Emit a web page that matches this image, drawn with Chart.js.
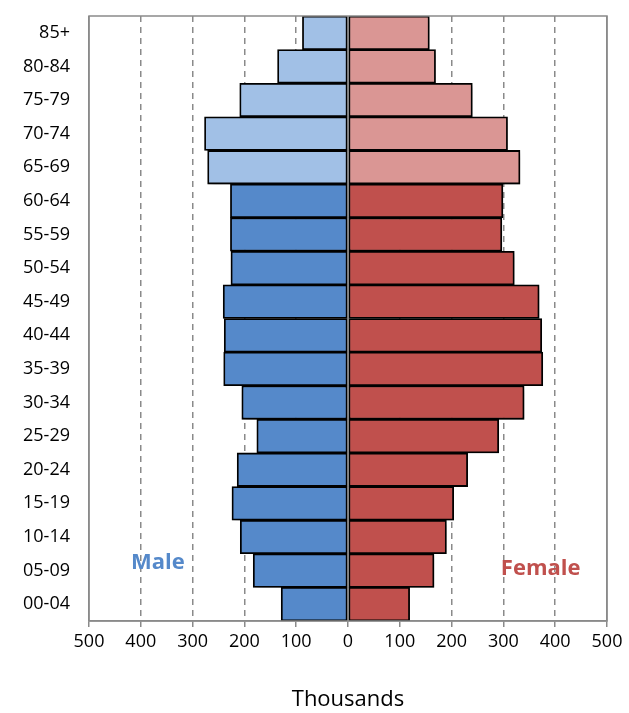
<!DOCTYPE html>
<html>
<head>
<meta charset="utf-8">
<script src="https://cdn.jsdelivr.net/npm/chart.js@4/dist/chart.umd.min.js"></script>
<style>
  html, body { margin: 0; padding: 0; background: #ffffff; }
  #wrap { width: 629px; height: 713px; position: relative; }
</style>
</head>
<body>
<div id="wrap"><canvas id="c" width="629" height="713"></canvas></div>
<script>
// Age groups, listed top to bottom as drawn
const ageGroups = ['85+','80-84','75-79','70-74','65-69','60-64','55-59','50-54','45-49','40-44','35-39','30-34','25-29','20-24','15-19','10-14','05-09','00-04'];
// Thousands of people
const maleValues   = [88, 136, 209, 277, 271, 227, 227, 226, 241, 239, 240, 205, 176, 214, 224, 208, 183, 129];
const femaleValues = [157, 169, 240, 308, 332, 299, 297, 321, 369, 374, 376, 340, 291, 231, 204, 190, 166, 119];
const olderGroups  = ['85+','80-84','75-79','70-74','65-69'];
const xTickValues  = [-500, -400, -300, -200, -100, 0, 100, 200, 300, 400, 500];

const maleDark = '#5589CA', maleLight = '#A1C0E6';
const femaleDark = '#C0504D', femaleLight = '#DA9694';
const gridGray = '#8a8a8a';
const FONT = "'Open Sans', 'DejaVu Sans', sans-serif";

const frameAndLabels = {
  id: 'frameAndLabels',
  beforeDatasetsDraw(chart) {
    const ctx = chart.ctx;
    ctx.save();
    ctx.shadowColor = 'rgba(0,0,0,0.30)';
    ctx.shadowBlur = 6;
    ctx.shadowOffsetX = 3;
    ctx.shadowOffsetY = 3;
  },
  afterDatasetsDraw(chart) {
    const ctx = chart.ctx;
    ctx.restore();
    const a = chart.chartArea;
    const x = chart.scales.x, y = chart.scales.y;
    ctx.save();
    ctx.strokeStyle = gridGray;
    ctx.lineWidth = 1.5;
    ctx.setLineDash([]);
    ctx.strokeRect(a.left, a.top, a.right - a.left, a.bottom - a.top);
    const x0 = x.getPixelForValue(0);
    ctx.beginPath();
    ctx.moveTo(x0, a.top);
    ctx.lineTo(x0, a.bottom);
    ctx.stroke();
    ctx.font = "bold 22px " + FONT;
    ctx.textAlign = 'center';
    ctx.textBaseline = 'middle';
    ctx.fillStyle = '#5589CA';
    ctx.fillText('Male', x.getPixelForValue(-367), y.getPixelForValue(16) - 8);
    ctx.fillStyle = '#C0504D';
    ctx.fillText('Female', x.getPixelForValue(372), y.getPixelForValue(16) - 2);
    ctx.restore();
  }
};

new Chart(document.getElementById('c'), {
  type: 'bar',
  data: {
    labels: ageGroups,
    datasets: [
      {
        label: 'Male',
        data: maleValues.map(v => -v),
        backgroundColor: ageGroups.map(g => olderGroups.includes(g) ? maleLight : maleDark),
        borderColor: '#000000',
        borderWidth: 1.8,
        borderSkipped: false,
        barPercentage: 1,
        categoryPercentage: 1
      },
      {
        label: 'Female',
        data: femaleValues,
        backgroundColor: ageGroups.map(g => olderGroups.includes(g) ? femaleLight : femaleDark),
        borderColor: '#000000',
        borderWidth: 1.8,
        borderSkipped: false,
        barPercentage: 1,
        categoryPercentage: 1
      }
    ]
  },
  options: {
    indexAxis: 'y',
    responsive: false,
    animation: false,
    devicePixelRatio: 1,
    layout: { padding: { top: 16, right: 22, left: 0, bottom: 0 } },
    plugins: { legend: { display: false }, tooltip: { enabled: false } },
    scales: {
      x: {
        stacked: true,
        min: -500,
        max: 500,
        afterBuildTicks(scale) { scale.ticks = xTickValues.map(v => ({ value: v })); },
        afterFit(scale) { scale.height = 92; },
        ticks: {
          color: '#000000',
          font: { family: FONT, size: 18 },
          padding: 4,
          maxRotation: 0,
          callback: (v) => String(Math.abs(v))
        },
        grid: {
          color: gridGray,
          lineWidth: 1.5,
          drawTicks: true,
          tickLength: 6,
          tickColor: gridGray
        },
        border: {
          display: true,
          color: gridGray,
          width: 1.5,
          dash: (ctx) => (ctx.tick && (ctx.tick.value === 0 || Math.abs(ctx.tick.value) === 500)) ? [] : [6, 5]
        },
        title: {
          display: true,
          text: 'Thousands',
          color: '#000000',
          font: { family: FONT, size: 22 },
          padding: { top: 0, bottom: 0 }
        }
      },
      y: {
        stacked: true,
        afterFit(scale) { scale.width = 89; scale.paddingTop = 0; scale.paddingBottom = 0; },
        ticks: {
          color: '#000000',
          font: { family: FONT, size: 18 },
          padding: 19
        },
        grid: { display: false, drawTicks: false },
        border: { display: false }
      }
    }
  },
  plugins: [frameAndLabels]
});
</script>
</body>
</html>
